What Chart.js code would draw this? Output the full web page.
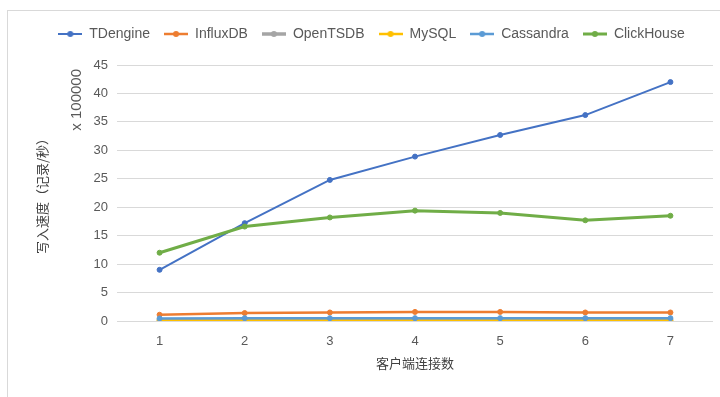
<!DOCTYPE html>
<html lang="zh">
<head>
<meta charset="UTF-8">
<title>写入速度</title>
<script src="https://cdn.jsdelivr.net/npm/chart.js@4.4.0/dist/chart.umd.min.js"></script>
<style>
  body { margin: 0; background: #fff; }
  #frame { position: absolute; left: 7px; top: 10px; width: 730px; height: 400px;
           border-left: 1px solid #d9d9d9; border-top: 1px solid #d9d9d9; }
  #wrap { position: absolute; left: 0; top: 0; width: 720px; height: 397px; }
</style>
</head>
<body>
<div id="frame"></div>
<div id="wrap"><canvas id="myChart" width="720" height="397"></canvas></div>

<script>
  // 客户端连接数
  const clients = ['1', '2', '3', '4', '5', '6', '7'];
  // 写入速度, 单位 x 100000 记录/秒
  const tdengine   = [9.0, 17.2, 24.8, 28.9, 32.7, 36.2, 42.0];
  const influxdb   = [1.1, 1.4, 1.5, 1.6, 1.6, 1.5, 1.5];
  const opentsdb   = [0.2, 0.2, 0.2, 0.2, 0.2, 0.2, 0.2];
  const mysql      = [0.1, 0.1, 0.1, 0.1, 0.1, 0.1, 0.1];
  const cassandra  = [0.45, 0.5, 0.5, 0.5, 0.5, 0.5, 0.5];
  const clickhouse = [12.0, 16.6, 18.2, 19.4, 19.0, 17.7, 18.5];
  const yTicks = [0, 5, 10, 15, 20, 25, 30, 35, 40, 45];

  const grey = '#595959';

  // legend symbol: short line with a dot in the middle
  function legendMark(color, width) {
    const c = document.createElement('canvas');
    c.width = 24; c.height = 10;
    const g = c.getContext('2d');
    g.strokeStyle = color; g.lineWidth = width;
    g.beginPath(); g.moveTo(0, 5); g.lineTo(24, 5); g.stroke();
    g.fillStyle = color;
    g.beginPath(); g.arc(12, 5, 3, 0, Math.PI * 2); g.fill();
    return c;
  }

  // excel draws later series on top, so give them a lower order
  function series(label, data, color, width, order) {
    return {
      label: label,
      data: data,
      borderColor: color,
      backgroundColor: color,
      borderWidth: width,
      pointRadius: 2.5,
      pointBorderWidth: 1,
      pointHoverRadius: 4,
      pointStyle: 'circle',
      legendMark: legendMark(color, width),
      order: order,
      tension: 0
    };
  }

  const unitLabel = {
    id: 'unitLabel',
    afterDraw(chart) {
      const ctx = chart.ctx;
      ctx.save();
      ctx.translate(77, chart.chartArea.top + 4);
      ctx.rotate(-Math.PI / 2);
      ctx.font = '15px "Liberation Sans", "Noto Sans", sans-serif';
      ctx.fillStyle = grey;
      ctx.textAlign = 'right';
      ctx.textBaseline = 'middle';
      ctx.fillText('x 100000', 0, 0);
      ctx.restore();
    }
  };

  // more room under the legend, and nudge it right like the original
  const legendGap = {
    id: 'legendGap',
    beforeInit(chart) {
      const fit = chart.legend.fit;
      chart.legend.fit = function () {
        fit.call(this);
        this.height += 14;
      };
    },
    afterLayout(chart) {
      chart.legend.left += 15;
      chart.legend.right += 15;
    }
  };

  const ctx = document.getElementById('myChart').getContext('2d');
  window.speedChart = new Chart(ctx, {
    type: 'line',
    data: {
      labels: clients,
      datasets: [
        series('TDengine', tdengine, '#4472C4', 2, 6),
        series('InfluxDB', influxdb, '#ED7D31', 2.5, 5),
        series('OpenTSDB', opentsdb, '#A5A5A5', 3.5, 4),
        series('MySQL', mysql, '#FFC000', 2.5, 3),
        series('Cassandra', cassandra, '#5B9BD5', 2.5, 2),
        series('ClickHouse', clickhouse, '#70AD47', 3, 1)
      ]
    },
    plugins: [legendGap, unitLabel],
    options: {
      responsive: false,
      animation: false,
      layout: { padding: { top: 13, right: 7, left: 0, bottom: 0 } },
      plugins: {
        legend: {
          position: 'top',
          labels: {
            color: grey,
            font: { size: 14, family: '"Liberation Sans", "Noto Sans", sans-serif' },
            usePointStyle: true,
            pointStyleWidth: 24,
            padding: 14,
            generateLabels(chart) {
              return chart.data.datasets.map((ds, i) => ({
                text: ds.label,
                pointStyle: ds.legendMark,
                fillStyle: ds.borderColor,
                strokeStyle: ds.borderColor,
                lineWidth: 0,
                fontColor: grey,
                datasetIndex: i,
                hidden: !chart.isDatasetVisible(i)
              }));
            }
          }
        },
        tooltip: { enabled: true }
      },
      scales: {
        x: {
          offset: true,
          grid: { display: false, drawTicks: false },
          border: { display: false },
          ticks: { color: grey, padding: 13, font: { size: 13, family: '"Liberation Sans", sans-serif' } },
          title: {
            display: true,
            text: '客户端连接数',
            color: '#404040',
            font: { size: 13, family: '"Noto Sans CJK SC", sans-serif' },
            padding: { top: 6, bottom: 26 }
          },
          afterFit(scale) { scale.height = 76; }
        },
        y: {
          min: 0,
          max: 45,
          afterBuildTicks(scale) { scale.ticks = yTicks.map(v => ({ value: v })); },
          grid: { color: '#d9d9d9', lineWidth: 1, drawTicks: false },
          border: { display: false },
          ticks: { color: grey, padding: 9, font: { size: 13, family: '"Liberation Sans", sans-serif' } },
          title: {
            display: true,
            text: '写入速度（记录/秒）',
            color: '#404040',
            font: { size: 13, family: '"Noto Sans CJK SC", sans-serif' },
            padding: { top: 34, bottom: 0 }
          },
          afterFit(scale) { scale.width = 117; }
        }
      }
    }
  });
</script>
</body>
</html>
